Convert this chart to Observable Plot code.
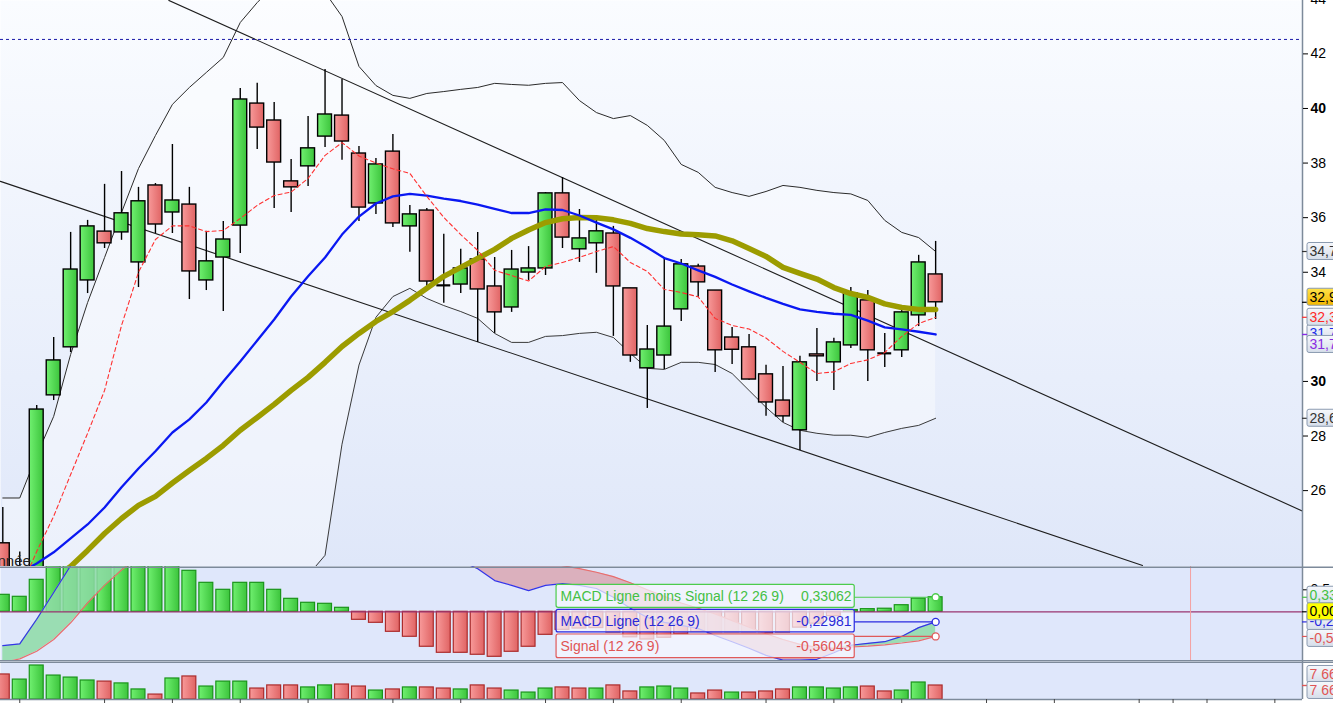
<!DOCTYPE html>
<html><head><meta charset="utf-8">
<script src="https://cdn.jsdelivr.net/npm/d3@7"></script>
<script src="https://cdn.jsdelivr.net/npm/@observablehq/plot@0.6"></script>
<style>
html,body{margin:0;padding:0;background:#fff;overflow:hidden;}
#chart{width:1333px;height:703px;}
#chart svg{display:block;overflow:hidden;}
</style></head><body>
<svg width="0" height="0" style="position:absolute">
<defs>
<linearGradient id="bgPrice" x1="0" y1="0" x2="0" y2="1"><stop offset="0" stop-color="#fafcff"/><stop offset="1" stop-color="#dfe7f9"/></linearGradient>
<linearGradient id="gUp" x1="0" y1="0" x2="1" y2="0"><stop offset="0" stop-color="#70f070"/><stop offset="1" stop-color="#3cc43c"/></linearGradient>
<linearGradient id="gDn" x1="0" y1="0" x2="1" y2="0"><stop offset="0" stop-color="#f89a9a"/><stop offset="1" stop-color="#e06464"/></linearGradient>
<linearGradient id="gBox" x1="0" y1="0" x2="0" y2="1"><stop offset="0" stop-color="#f6f8fc"/><stop offset="1" stop-color="#d6deea"/></linearGradient>
<linearGradient id="gGold" x1="0" y1="0" x2="0" y2="1"><stop offset="0" stop-color="#ffe24a"/><stop offset="1" stop-color="#f5b800"/></linearGradient>
</defs></svg>
<div id="chart"></div>
<script>
// ================= DATA =================
const open  = [24.07,22.20,22.80,29.49,31.25,33.70,35.49,35.46,34.36,37.18,
               36.19,36.48,33.70,34.54,35.71,40.18,39.56,37.33,37.88,38.97,
               39.74,38.35,36.52,38.42,35.68,36.26,33.52,33.55,34.47,33.48,
               32.71,33.99,34.14,36.89,34.84,35.06,35.42,33.41,30.48,30.95,
               32.64,34.21,33.33,31.61,31.25,30.26,29.30,28.21,30.99,30.70,
               31.32,32.97,31.03,31.14,32.42,33.92];
const high  = [25.38,23.75,29.12,31.61,35.46,35.90,37.22,37.69,37.11,37.25,
               38.68,37.11,35.50,35.86,40.73,40.92,40.22,38.13,39.71,41.43,
               41.06,38.61,38.17,39.05,36.45,36.34,35.39,34.84,35.46,34.54,
               34.80,34.94,36.92,37.47,36.30,35.90,35.68,33.41,32.05,34.54,
               34.47,34.29,33.33,31.98,31.72,30.59,30.55,30.92,31.94,31.58,
               33.44,33.33,31.76,32.64,34.62,35.13];
const low   = [22.00,21.80,22.50,29.30,31.06,33.22,34.87,35.17,33.44,35.42,
               35.42,33.00,33.33,32.56,34.69,38.50,36.34,36.19,37.14,38.57,
               38.10,35.86,36.12,35.64,34.73,33.44,32.86,33.22,31.43,31.76,
               32.53,33.70,33.88,34.87,34.36,33.96,31.65,30.70,29.01,30.44,
               32.20,33.08,30.33,30.62,30.04,28.72,28.50,27.47,30.00,29.67,
               31.21,30.00,30.51,30.88,32.01,32.27];
const close = [22.35,22.90,28.97,30.77,34.10,35.68,35.06,36.16,36.60,35.75,
               36.63,34.03,34.40,35.20,40.33,39.30,38.02,37.11,38.54,39.78,
               38.79,36.37,37.95,35.79,36.12,33.66,33.52,34.14,33.37,32.53,
               34.10,34.14,36.89,35.27,35.24,35.50,33.48,30.95,31.17,32.01,
               34.29,33.63,31.14,31.16,30.07,29.23,28.72,30.70,30.92,31.43,
               33.22,31.14,31.03,32.53,34.36,32.90];
// volume, millions
const volume = [13.7,10.9,18.6,13.1,12.0,10.4,9.8,8.8,5.5,2.7,
                11.5,12.6,7.1,9.8,9.8,6.0,7.7,7.7,6.6,7.7,
                8.2,7.1,4.9,5.5,6.6,6.6,6.0,5.5,7.7,6.0,
                4.9,3.8,6.0,6.6,6.0,6.0,7.7,4.4,6.6,7.1,
                6.0,3.3,4.9,3.8,3.8,4.4,5.5,6.6,6.6,6.0,
                6.6,7.1,4.4,4.9,9.3,7.66];
const ma5  = [20.88,22.35,23.77,25.06,26.59,28.10,29.67,32.05,34.00,35.20,
              35.70,35.70,35.49,35.53,35.97,36.45,36.81,36.94,37.44,38.28,
              38.75,38.26,38.00,37.79,37.62,36.78,36.01,35.38,34.80,34.07,
              33.88,33.68,34.21,34.36,34.55,34.76,34.94,34.36,34.03,33.37,
              33.26,33.10,32.31,32.05,31.92,31.59,31.10,30.70,30.29,30.35,
              30.66,30.79,31.06,31.65,32.12,32.35];
const ma20 = [22.71,23.00,23.33,23.74,24.25,24.76,25.38,26.12,26.81,27.44,
              28.13,28.61,29.23,30.00,30.73,31.50,32.27,33.11,33.85,34.54,
              35.38,36.04,36.52,36.78,36.87,36.81,36.70,36.61,36.48,36.32,
              36.17,36.17,36.30,36.28,36.08,35.82,35.57,35.26,34.91,34.52,
              34.32,34.07,33.83,33.55,33.30,33.06,32.84,32.64,32.55,32.48,
              32.44,32.23,31.98,31.91,31.82,31.72];
const ma50 = [21.25,21.80,22.35,22.79,23.22,23.81,24.43,24.98,25.46,25.79,
              26.28,26.74,27.18,27.66,28.21,28.68,29.16,29.67,30.15,30.70,
              31.28,31.76,32.20,32.56,32.97,33.41,33.85,34.18,34.51,34.84,
              35.24,35.55,35.82,35.96,36.01,36.00,35.92,35.79,35.60,35.49,
              35.40,35.37,35.33,35.15,34.87,34.58,34.18,33.96,33.75,33.44,
              33.22,33.08,32.84,32.71,32.64,32.64];
const bbUp = [25.73,25.73,27.29,28.72,30.99,32.89,34.54,36.19,37.80,39.01,
              40.15,40.77,41.32,41.87,43.15,43.88,44.51,44.76,44.69,44.25,
              43.37,41.54,40.84,40.48,40.37,40.55,40.62,40.70,40.77,40.92,
              40.88,40.85,40.92,40.95,40.29,39.85,39.63,39.74,39.38,38.83,
              37.95,37.66,37.11,36.92,36.78,36.96,37.18,37.11,37.00,36.92,
              36.87,36.63,35.90,35.46,35.27,34.76];
const bbLo = [19.69,20.27,19.37,18.76,17.51,16.63,16.22,16.05,15.82,15.87,
              16.11,16.45,17.14,18.13,18.31,19.12,20.03,21.46,22.90,23.63,
              27.70,30.60,32.35,33.11,33.41,33.04,32.78,32.56,32.31,31.76,
              31.43,31.43,31.65,31.68,31.76,31.80,31.61,31.03,30.48,30.44,
              30.70,30.70,30.62,30.29,29.67,29.05,28.50,28.21,28.10,28.03,
              28.03,27.95,28.13,28.28,28.39,28.65];
const macd   = [-0.77,-0.73,-0.17,0.44,1.05,1.6,2.0,2.3,2.55,2.7,
                2.8,2.85,2.8,2.75,2.95,3.05,3.0,2.9,2.85,2.85,
                2.8,2.6,2.45,2.2,1.95,1.65,1.4,1.15,0.98,0.71,
                0.6,0.48,0.6,0.64,0.6,0.53,0.33,0.08,-0.13,-0.24,
                -0.31,-0.38,-0.54,-0.68,-0.83,-0.99,-1.1,-1.1,-1.08,-0.93,
                -0.76,-0.72,-0.68,-0.56,-0.36,-0.22981];
const signal = [-1.156,-1.071,-0.897,-0.63,-0.25,0.2,0.6,0.95,1.25,1.5,
                1.7,1.918,2.141,2.25,2.291,2.391,2.5,2.605,2.645,2.668,
                2.709,2.782,2.7,2.655,2.518,2.445,2.332,2.082,1.957,1.733,
                1.509,1.275,1.123,1.05,0.98,0.90,0.80,0.66,0.50,0.35,
                0.20,0.08,-0.05,-0.20,-0.35,-0.50,-0.63,-0.74,-0.81,-0.83,
                -0.80,-0.78,-0.75,-0.71,-0.66,-0.56043];
const hist   = [0.386,0.341,0.727,1.07,1.3,1.4,1.4,1.35,1.3,1.2,
                1.1,0.932,0.659,0.5,0.659,0.659,0.5,0.295,0.205,0.182,
                0.091,-0.182,-0.25,-0.455,-0.568,-0.795,-0.932,-0.932,-0.977,-1.023,
                -0.909,-0.795,-0.523,-0.41,-0.38,-0.37,-0.47,-0.58,-0.63,-0.59,
                -0.51,-0.46,-0.49,-0.48,-0.48,-0.49,-0.47,-0.36,-0.27,-0.10,
                0.04,0.06,0.07,0.15,0.30,0.33062];
// trend lines (bar index, price)
const trendUpperI = [9.79, 76.7],  trendUpperP = [43.96, 25.23];
const trendLowerI = [-0.14, 67.2], trendLowerP = [37.33, 23.26];
const resistance = 42.53;
const priceTicks = [26, 28, 34, 36, 38, 42, 44];
const priceTicksBold = [30, 40];
const xTicks = [1, 6, 10, 14, 18, 23, 27, 32, 36, 40, 45, 49, 53, 58, 62, 67, 69, 71, 75];
const macdLegend = ["MACD Ligne moins Signal (12 26 9)", "MACD Ligne (12 26 9)", "Signal (12 26 9)"];
const cornerText = "nnée";

// ================= BUILD =================
const N = open.length;
const rows = d3.range(N).map(i => ({
  i, o: open[i], h: high[i], l: low[i], c: close[i], v: volume[i],
  up: i > 0 ? close[i] >= close[i-1] : false,
  ma5: ma5[i], ma20: ma20[i], ma50: ma50[i], bu: bbUp[i], bl: bbLo[i],
  m: macd[i], s: signal[i], hh: hist[i]
}));
const xDomain = [-0.1356, 76.63];
const XR = xDomain[1];
const BW = 0.41;
const font = "'Liberation Sans', Arial, sans-serif";
const last = rows[N-1];
const dec = v => d3.format(".2f")(v).replace(".", ",").replace("\u2212", "-");
const dec5 = v => d3.format(".5f")(v).replace(".", ",").replace("\u2212", "-");
const volFmt = d3.formatLocale({decimal: ",", thousands: " ", grouping: [3], currency: ["", ""]}).format(",.0f");
const border = "#7d8a9a";

function labelMarks(list, prefix) {
  return list.flatMap((L, k) => [
    Plot.ruleY([L.v], {x1: XR, x2: XR + 0.3, stroke: L.color, strokeWidth: 1.2}),
    Plot.text([L], {y: "v", text: "t", frameAnchor: "right", dx: 7, dy: L.dy || 0, textAnchor: "start",
      fill: L.color, fontSize: 14, className: prefix + k})
  ]);
}

// ---------- price panel ----------
const yP = [23.22, 43.956];
const priceLabels = [
  {v: last.ma20, t: dec(last.ma20), color: "#2030e8", box: "url(#gBox)", dy: -1},
  {v: last.ma20, t: dec(last.ma20), color: "#8a2be2", box: "url(#gBox)", dy: 10},
  {v: last.ma5, t: dec(last.ma5), color: "#ff2a2a", box: "url(#gBox)", dy: 0},
  {v: last.c, t: dec(last.c), color: "#000", box: "url(#gGold)", dy: -5},
  {v: last.bu, t: dec(last.bu), color: "#333", box: "url(#gBox)", dy: 0},
  {v: last.bl, t: dec(last.bl), color: "#333", box: "url(#gBox)", dy: 0}
];
const pricePlot = Plot.plot({
  width: 1333, height: 566, marginLeft: 0, marginRight: 31, marginTop: 0, marginBottom: 0,
  x: {domain: xDomain, axis: null},
  y: {domain: yP, axis: null},
  style: {background: "#fff", fontFamily: font, overflow: "hidden"},
  marks: [
    Plot.frame({fill: "url(#bgPrice)", stroke: null}),
    Plot.areaY(rows, {x: "i", y1: "bl", y2: "bu", fill: "#fff", fillOpacity: 0.4, clip: true}),
    Plot.line(rows, {x: "i", y: "bu", stroke: "#2a2a2a", strokeWidth: 1, clip: true}),
    Plot.line(rows, {x: "i", y: "bl", stroke: "#3a3a3a", strokeWidth: 1, clip: true}),
    Plot.line(d3.range(2), {x: k => trendUpperI[k], y: k => trendUpperP[k], stroke: "#1e1e1e", strokeWidth: 1.1, clip: true}),
    Plot.line(d3.range(2), {x: k => trendLowerI[k], y: k => trendLowerP[k], stroke: "#1e1e1e", strokeWidth: 1.1, clip: true}),
    Plot.ruleY([resistance], {stroke: "#1818a8", strokeWidth: 1, strokeDasharray: "3,3"}),
    Plot.ruleX(rows, {x: "i", y1: "l", y2: "h", stroke: "#000", strokeWidth: 1.4, clip: true}),
    Plot.rect(rows.filter(d => d.c > d.o), {x1: d => d.i - BW, x2: d => d.i + BW, y1: "o", y2: "c",
      fill: "url(#gUp)", stroke: "#000", strokeWidth: 1.4, clip: true}),
    Plot.rect(rows.filter(d => d.c < d.o), {x1: d => d.i - BW, x2: d => d.i + BW, y1: "o", y2: "c",
      fill: "url(#gDn)", stroke: "#000", strokeWidth: 1.4, clip: true}),
    Plot.ruleY(rows.filter(d => d.c === d.o), {x1: d => d.i - BW, x2: d => d.i + BW, y: "o", stroke: "#000", strokeWidth: 2.2, clip: true}),
    Plot.line(rows, {x: "i", y: "ma50", stroke: "#9c9c00", strokeWidth: 5.5, clip: true}),
    Plot.line(rows, {x: "i", y: "ma20", stroke: "#0a18f2", strokeWidth: 2.3, clip: true}),
    Plot.line(rows, {x: "i", y: "ma5", stroke: "#ff3030", strokeWidth: 1.1, strokeDasharray: "4,3", clip: true}),
    Plot.text([cornerText], {frameAnchor: "bottom-left", dx: -3, dy: -1, lineAnchor: "bottom", textAnchor: "start", fontSize: 15, fill: "#222"}),
    Plot.ruleX([XR], {stroke: border, strokeWidth: 1.5}),
    Plot.axisY({anchor: "right", ticks: priceTicks, tickSize: 5, tickPadding: 3, fontSize: 14, label: null, tickFormat: d => String(d)}),
    Plot.axisY({anchor: "right", ticks: priceTicksBold, tickSize: 5, tickPadding: 3, fontSize: 14, fontWeight: "bold", label: null, tickFormat: d => String(d)}),
    ...labelMarks(priceLabels, "plab")
  ]
});

// ---------- MACD panel ----------
const yM = [-1.13, 1.03];
const legendRows = [
  {name: macdLegend[0], val: last.hh, color: "#4ccc4c", tcolor: "#44c044", y1: 0.614, y2: 0.091, yc: 0.352},
  {name: macdLegend[1], val: last.m,  color: "#2a2ae0", tcolor: "#2a2ad8", y1: 0.045, y2: -0.470, yc: -0.214},
  {name: macdLegend[2], val: last.s,  color: "#e05a5a", tcolor: "#e05555", y1: -0.516, y2: -1.055, yc: -0.786}
];
const legX1 = 32.65, legX2 = 50.23, legTx = 32.88, legVx = 50.04;
const macdLabels = [
  {v: last.m, t: dec5(last.m), color: "#2a2ae0", box: "url(#gBox)", dy: 0},
  {v: last.hh, t: dec5(last.hh), color: "#44c044", box: "url(#gBox)", dy: -2},
  {v: 0, t: dec5(0), color: "#000", box: "#ffff00", dy: 0},
  {v: last.s, t: dec5(last.s), color: "#e05555", box: "url(#gBox)", dy: 2}
];
const macdPlot = Plot.plot({
  width: 1333, height: 95, marginLeft: 0, marginRight: 31, marginTop: 0, marginBottom: 0,
  x: {domain: xDomain, axis: null},
  y: {domain: yM, axis: null},
  style: {background: "#fff", fontFamily: font, overflow: "hidden"},
  marks: [
    Plot.frame({fill: "#dfe7fb", stroke: null}),
    Plot.rect(rows.filter(d => d.hh >= 0), {x1: d => d.i - BW, x2: d => d.i + BW, y1: 0, y2: "hh",
      fill: "url(#gUp)", stroke: "#1a941a", strokeWidth: 1.2, clip: true}),
    Plot.rect(rows.filter(d => d.hh < 0), {x1: d => d.i - BW, x2: d => d.i + BW, y1: 0, y2: "hh",
      fill: "url(#gDn)", stroke: "#ab2c2c", strokeWidth: 1.2, clip: true}),
    Plot.areaY(rows, {x: "i", y1: "s", y2: d => Math.max(d.m, d.s), fill: "#8edaa6", fillOpacity: 0.85, clip: true}),
    Plot.areaY(rows, {x: "i", y1: d => Math.min(d.m, d.s), y2: "s", fill: "#dba6b2", fillOpacity: 0.85, clip: true}),
    Plot.line(rows, {x: "i", y: "m", stroke: "#3434e8", strokeWidth: 1.2, clip: true}),
    Plot.line(rows, {x: "i", y: "s", stroke: "#e86e6e", strokeWidth: 1.2, clip: true}),
    Plot.ruleY([0], {x1: xDomain[0], x2: XR, stroke: "#9a3470", strokeWidth: 1.2}),
    Plot.ruleX([70.03], {stroke: "#f4a0a0", strokeWidth: 1}),
    ...legendRows.flatMap(r => [
      Plot.rect([r], {x1: legX1, x2: legX2, y1: "y1", y2: "y2", fill: "#f6f8ff", fillOpacity: 0.72, stroke: r.color, strokeWidth: 1.2, rx: 2}),
      Plot.text([r], {x: legTx, y: "yc", text: "name", textAnchor: "start", fill: r.tcolor, fontSize: 14}),
      Plot.text([r], {x: legVx, y: "yc", text: d => dec5(d.val), textAnchor: "end", fill: r.tcolor, fontSize: 14}),
      Plot.ruleY([r.val], {x1: legX2, x2: N - 1, stroke: r.color, strokeWidth: 1.2}),
      Plot.dot([r], {x: N - 1, y: "val", r: 3.5, fill: "#fff", stroke: r.color, strokeWidth: 1.3})
    ]),
    Plot.ruleX([XR], {stroke: border, strokeWidth: 1.5}),
    Plot.ruleY([yM[1]], {x1: xDomain[0], x2: 79, stroke: border, strokeWidth: 1.5, dy: 0.75}),
    Plot.ruleY([yM[0]], {x1: xDomain[0], x2: 79, stroke: border, strokeWidth: 1.5, dy: -0.75}),
    Plot.axisY({anchor: "right", ticks: [0.5], tickSize: 5, tickPadding: 3, fontSize: 14, label: null, tickFormat: () => "0,5"}),
    ...labelMarks(macdLabels, "mlab")
  ]
});

// ---------- volume panel ----------
const vMax = 20.79;
const volLabels = [
  {v: last.v, t: volFmt(last.v * 1e6), color: "#e05555", box: "url(#gBox)", dy: -11},
  {v: last.v, t: volFmt(last.v * 1e6), color: "#e05555", box: "url(#gBox)", dy: 5}
];
const volPlot = Plot.plot({
  width: 1333, height: 42, marginLeft: 0, marginRight: 31, marginTop: 0, marginBottom: 4,
  x: {domain: xDomain, axis: null},
  y: {domain: [0, vMax], axis: null},
  style: {background: "#fff", fontFamily: font, overflow: "hidden"},
  marks: [
    Plot.frame({fill: "#dfe7fb", stroke: null}),
    Plot.rect(rows.filter(d => d.up), {x1: d => d.i - BW, x2: d => d.i + BW, y1: 0, y2: "v",
      fill: "url(#gUp)", stroke: "#1a941a", strokeWidth: 1.2, clip: true}),
    Plot.rect(rows.filter(d => !d.up), {x1: d => d.i - BW, x2: d => d.i + BW, y1: 0, y2: "v",
      fill: "url(#gDn)", stroke: "#ab2c2c", strokeWidth: 1.2, clip: true}),
    Plot.ruleX([XR], {stroke: border, strokeWidth: 1.5}),
    Plot.ruleY([vMax], {x1: xDomain[0], x2: 79, stroke: border, strokeWidth: 1.5, dy: 0.75}),
    Plot.ruleY([0], {x1: xDomain[0], x2: XR, stroke: border, strokeWidth: 1.5}),
    Plot.axisX({anchor: "bottom", ticks: xTicks, tickSize: 4, tickFormat: () => "", stroke: "#444", label: null}),
    ...labelMarks(volLabels, "vlab")
  ]
});

const chart = document.getElementById("chart");
chart.append(pricePlot, macdPlot, volPlot);

// boxes behind right-hand value labels
const svgNS = "http://www.w3.org/2000/svg";
function boxify(root, cls, fill) {
  root.querySelectorAll("." + cls + " text").forEach(t => {
    const b = t.getBBox();
    const r = document.createElementNS(svgNS, "rect");
    r.setAttribute("x", b.x - 2.5);
    r.setAttribute("y", b.y - 0.5);
    r.setAttribute("width", b.width + 40);
    r.setAttribute("height", b.height + 1);
    r.setAttribute("rx", 2);
    r.setAttribute("fill", fill);
    r.setAttribute("stroke", "#8a9ab0");
    r.setAttribute("stroke-width", 1);
    const tr = t.getAttribute("transform");
    if (tr) r.setAttribute("transform", tr);
    t.parentNode.insertBefore(r, t);
  });
}
priceLabels.forEach((L, k) => boxify(pricePlot, "plab" + k, L.box));
macdLabels.forEach((L, k) => boxify(macdPlot, "mlab" + k, L.box));
volLabels.forEach((L, k) => boxify(volPlot, "vlab" + k, L.box));
</script>
</body></html>
